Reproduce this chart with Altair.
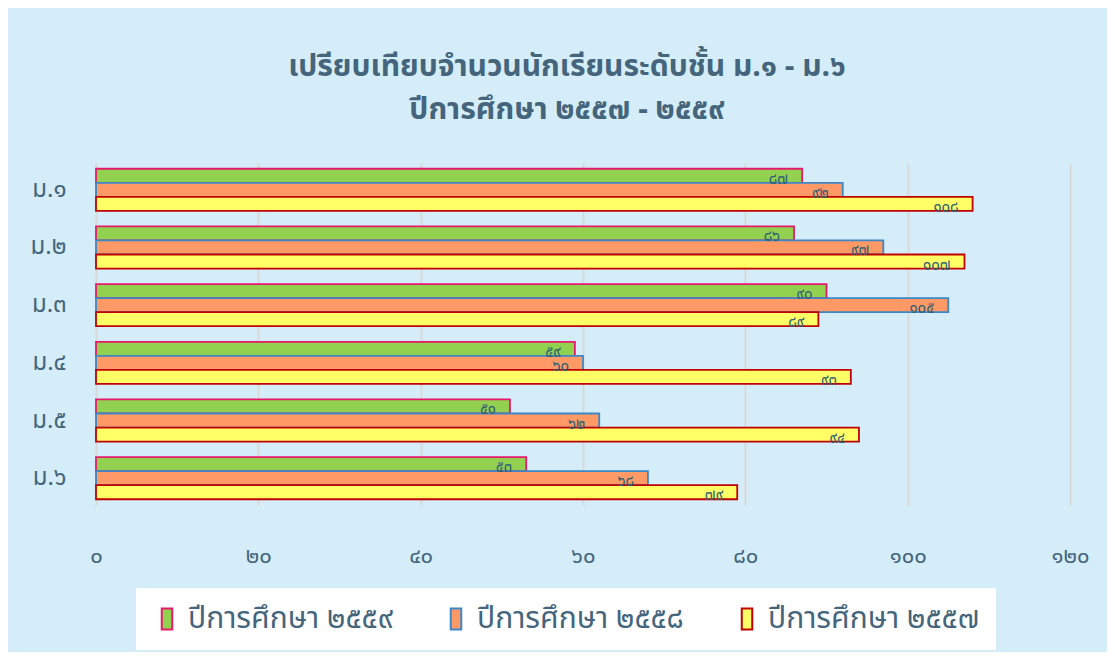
import json
import altair as alt
import pandas as pd

grades = ["ม.๑", "ม.๒", "ม.๓", "ม.๔", "ม.๕", "ม.๖"]
series = ["ปีการศึกษา ๒๕๕๙", "ปีการศึกษา ๒๕๕๘", "ปีการศึกษา ๒๕๕๗"]
y2559 = [87, 86, 90, 59, 51, 53]
y2558 = [92, 97, 105, 60, 62, 68]
y2557 = [108, 107, 89, 93, 94, 79]
x_ticks = [0, 20, 40, 60, 80, 100, 120]
x_tick_labels = ["๐", "๒๐", "๔๐", "๖๐", "๘๐", "๑๐๐", "๑๒๐"]
title_lines = ["เปรียบเทียบจำนวนนักเรียนระดับชั้น ม.๑ - ม.๖", "ปีการศึกษา ๒๕๕๗ - ๒๕๕๙"]

fills = ["#92D050", "#FF9966", "#FFFF66"]
strokes = ["#E8186C", "#3C87C6", "#C00000"]
FONT = "Noto Sans Thai, Noto Sans, DejaVu Sans, sans-serif"
TXT = "#44657C"

THAI = str.maketrans("0123456789", "๐๑๒๓๔๕๖๗๘๙")
rows = []
for s, vals in zip(series, [y2559, y2558, y2557]):
    for g, v in zip(grades, vals):
        rows.append(dict(grade=g, series=s, value=v, label=str(v).translate(THAI)))
df = pd.DataFrame(rows)

label_expr = f"{json.dumps(x_tick_labels, ensure_ascii=False)}[indexof({json.dumps(x_ticks)}, datum.value)]"

legend = alt.Legend(
    title=None, orient="none", legendX=40, legendY=425, direction="horizontal",
    fillColor="white", padding=16, labelFontSize=30, labelColor=TXT, labelFont=FONT,
    symbolType="M-0.5,-1H0.5V1H-0.5Z", symbolSize=441, symbolStrokeWidth=2,
    columnPadding=48, labelOffset=6, labelLimit=400,
)

y_enc = alt.Y("grade:N", sort=grades,
              scale=alt.Scale(paddingInner=0.27, paddingOuter=0.1),
              axis=alt.Axis(title=None, labelFontSize=24, labelColor=TXT, labelFont=FONT,
                            labelPadding=30, ticks=False, domain=False, grid=False))
yoff = alt.YOffset("series:N", sort=series, scale=alt.Scale(paddingInner=0, paddingOuter=0))
x_enc = alt.X("value:Q", scale=alt.Scale(domain=[0, 120]),
              axis=alt.Axis(values=x_ticks, labelExpr=label_expr, title=None, grid=True,
                            gridColor="#D9D9D9", gridWidth=2, domain=False, ticks=False,
                            labelFlush=False, labelPadding=40, labelFontSize=22,
                            labelColor=TXT, labelFont=FONT))

bars = alt.Chart(df).mark_bar(strokeWidth=1.8).encode(
    x=x_enc, y=y_enc, yOffset=yoff,
    fill=alt.Fill("series:N", sort=series, scale=alt.Scale(domain=series, range=fills), legend=legend),
    stroke=alt.Stroke("series:N", sort=series, scale=alt.Scale(domain=series, range=strokes), legend=legend),
)

text = alt.Chart(df).mark_text(align="right", baseline="middle", dx=-14, dy=3,
                               fontSize=15, color="#2E5F73", font=FONT).encode(
    x="value:Q", y=alt.Y("grade:N", sort=grades), yOffset=alt.YOffset("series:N", sort=series),
    text="label:N",
)

chart = alt.layer(bars, text).properties(
    width=974, height=342,
    title=alt.TitleParams(text=title_lines, fontSize=30, fontWeight="bold", color=TXT, font=FONT,
                          anchor="middle", dx=-16, offset=38, lineHeight=43),
    padding={"left": 88, "top": 155, "right": 37, "bottom": 147},
    autosize=alt.AutoSizeParams(type="none"),
    background="#D4EDF8",
).configure_view(stroke=None)

chart.save("out.html", embed_options={"renderer": "svg", "actions": False})
